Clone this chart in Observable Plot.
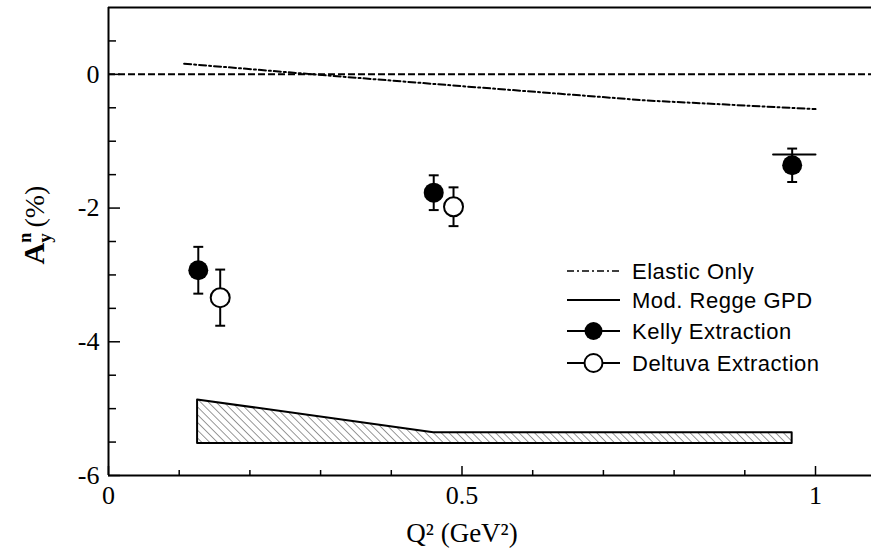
<!DOCTYPE html>
<html>
<head>
<meta charset="utf-8">
<script src="https://cdn.jsdelivr.net/npm/d3@7"></script>
<script src="https://cdn.jsdelivr.net/npm/@observablehq/plot@0.6"></script>
<style>
  html, body { margin: 0; padding: 0; background: white; }
  svg { display: block; }
</style>
</head>
<body>
<div id="chart"></div>
<script>
// ---- data ----
const kellyQ2 = [0.127, 0.460, 0.967];
const kellyAy = [-2.93, -1.77, -1.36];
const kellyErr = [0.35, 0.26, 0.25];

const deltuvaQ2 = [0.158, 0.488];
const deltuvaAy = [-3.34, -1.98];
const deltuvaErr = [0.42, 0.29];

const elasticQ2 = [0.107, 0.29, 0.48, 0.76, 1.0];
const elasticAy = [0.16, 0.0, -0.16, -0.39, -0.52];

const reggeQ2 = [0.94, 1.0];
const reggeAy = [-1.2, -1.2];

const sysQ2 = [0.126, 0.46, 0.967];
const sysTop = [-4.87, -5.36, -5.36];
const sysBottom = [-5.52, -5.52, -5.52];

const xMajorTicks = [0, 0.5, 1];
const xMinorTicks = [0.1, 0.2, 0.3, 0.4, 0.6, 0.7, 0.8, 0.9];
const yMajorTicks = [-6, -4, -2, 0];
const yMinorTicks = [-5.5, -5, -4.5, -3.5, -3, -2.5, -1.5, -1, -0.5, 0.5];
const xTickLabels = ["0", "0.5", "1"];
const yTickLabels = ["-6", "-4", "-2", "0"];

const legendLabels = ["Elastic Only", "Mod. Regge GPD", "Kelly Extraction", "Deltuva Extraction"];
const xLabel = "Q\u00B2 (GeV\u00B2)";

// ---- tables ----
const kelly = kellyQ2.map((x, i) => ({x, y: kellyAy[i], e: kellyErr[i]}));
const deltuva = deltuvaQ2.map((x, i) => ({x, y: deltuvaAy[i], e: deltuvaErr[i]}));
const elastic = elasticQ2.map((x, i) => ({x, y: elasticAy[i]}));
const regge = reggeQ2.map((x, i) => ({x, y: reggeAy[i]}));
const sys = sysQ2.map((x, i) => ({x, top: sysTop[i], bottom: sysBottom[i]}));
const xLab = xMajorTicks.map((v, i) => ({v, t: xTickLabels[i]}));
const yLab = yMajorTicks.map((v, i) => ({v, t: yTickLabels[i]}));

const capHalf = 0.007;
const serif = "Liberation Serif";
const sans = "Liberation Sans";

function errorMarks(data) {
  return [
    Plot.ruleX(data, {x: "x", y1: d => d.y - d.e, y2: d => d.y + d.e, stroke: "black", strokeWidth: 2}),
    Plot.link(data, {x1: d => d.x - capHalf, x2: d => d.x + capHalf, y1: d => d.y + d.e, y2: d => d.y + d.e, stroke: "black", strokeWidth: 2}),
    Plot.link(data, {x1: d => d.x - capHalf, x2: d => d.x + capHalf, y1: d => d.y - d.e, y2: d => d.y - d.e, stroke: "black", strokeWidth: 2})
  ];
}

const chart = Plot.plot({
  width: 871,
  height: 550,
  marginTop: 7,
  marginLeft: 108,
  marginRight: 0,
  marginBottom: 75,
  x: {domain: [0, 1.0792]},
  y: {domain: [-6, 1]},
  style: {background: "white", color: "black"},
  marks: [
    // hatched systematic band
    Plot.areaY(sys, {x: "x", y1: "bottom", y2: "top", fill: "url(#hatch)", stroke: "black", strokeWidth: 2, curve: "linear"}),
    // zero line
    Plot.ruleY([0], {stroke: "black", strokeWidth: 2, strokeDasharray: "7,3"}),
    // elastic only
    Plot.line(elastic, {x: "x", y: "y", stroke: "black", strokeWidth: 2, strokeDasharray: "7,3,2,3"}),
    // modified Regge GPD
    Plot.line(regge, {x: "x", y: "y", stroke: "black", strokeWidth: 2}),
    // error bars
    ...errorMarks(kelly),
    ...errorMarks(deltuva),
    Plot.dot(kelly, {x: "x", y: "y", r: 10, fill: "black", stroke: "none"}),
    Plot.dot(deltuva, {x: "x", y: "y", r: 9.5, fill: "white", stroke: "black", strokeWidth: 2}),
    // axes ticks (inward)
    Plot.axisX(xMajorTicks, {tickSize: -9, tickFormat: () => "", label: null, strokeWidth: 1.5}),
    Plot.axisX(xMinorTicks, {tickSize: -5, tickFormat: () => "", label: null, strokeWidth: 1.5}),
    Plot.axisY(yMajorTicks, {tickSize: -12, tickFormat: () => "", label: null, strokeWidth: 1.5}),
    Plot.axisY(yMinorTicks, {tickSize: -8, tickFormat: () => "", label: null, strokeWidth: 1.5}),
    // tick labels
    Plot.text(xLab, {x: "v", text: "t", frameAnchor: "bottom", lineAnchor: "top", dy: 10, fontSize: 26, fontFamily: serif, fill: "black"}),
    Plot.text(yLab, {y: "v", text: "t", frameAnchor: "left", textAnchor: "end", dx: -9, fontSize: 26, fontFamily: serif, fill: "black"}),
    // frame (left, top, bottom)
    Plot.ruleX([0], {stroke: "black", strokeWidth: 2}),
    Plot.ruleY([-6, 1], {stroke: "black", strokeWidth: 2})
  ]
});

const svg = d3.select(chart);

// hatch pattern
const defs = svg.insert("defs", ":first-child");
const pat = defs.append("pattern")
  .attr("id", "hatch")
  .attr("patternUnits", "userSpaceOnUse")
  .attr("width", 5.5).attr("height", 5.5)
  .attr("patternTransform", "rotate(-45)");
pat.append("rect").attr("width", 5.5).attr("height", 5.5).attr("fill", "white");
pat.append("line").attr("x1", 0).attr("y1", 0).attr("x2", 0).attr("y2", 5.5)
  .attr("stroke", "#555").attr("stroke-width", 1.2);

// y axis label  A^n_y (%)
const yl = svg.append("text")
  .attr("transform", "translate(44,225) rotate(-90)")
  .attr("text-anchor", "middle")
  .attr("font-family", serif)
  .attr("font-size", 30)
  .attr("font-weight", "bold")
  .attr("fill", "black");
yl.append("tspan").text("A");
yl.append("tspan").attr("dy", -13).attr("font-size", 18).text("n");
yl.append("tspan").attr("dx", -10).attr("dy", 20).attr("font-size", 19).text("y");
yl.append("tspan").attr("dy", -7).attr("font-size", 28).attr("font-weight", "normal").text("\u2009(%)");

// x axis label
svg.append("text")
  .attr("x", 462).attr("y", 542)
  .attr("text-anchor", "middle")
  .attr("font-family", serif)
  .attr("font-size", 27)
  .attr("fill", "black")
  .text(xLabel);

// legend
const lg = svg.append("g").attr("font-family", sans).attr("font-size", 22)
  .attr("fill", "black").attr("text-anchor", "start");
const rowsY = [271, 300, 331, 363];
const lx1 = 567, lx2 = 620, tx = 632;
legendLabels.forEach((label, i) => {
  const y = rowsY[i];
  const ln = lg.append("line").attr("x1", lx1).attr("x2", lx2).attr("y1", y).attr("y2", y)
    .attr("stroke", "black").attr("stroke-width", i === 0 ? 1.5 : 2);
  if (i === 0) ln.attr("stroke-dasharray", "7,3,2,3");
  if (i === 2) lg.append("circle").attr("cx", (lx1 + lx2) / 2).attr("cy", y).attr("r", 9).attr("fill", "black");
  if (i === 3) lg.append("circle").attr("cx", (lx1 + lx2) / 2).attr("cy", y).attr("r", 9).attr("fill", "white").attr("stroke", "black").attr("stroke-width", 2);
  lg.append("text").attr("x", tx).attr("y", y).attr("dy", "0.36em")
    .attr("text-anchor", "start").style("letter-spacing", "0.5px").text(label);
});

document.getElementById("chart").appendChild(chart);
</script>
</body>
</html>
